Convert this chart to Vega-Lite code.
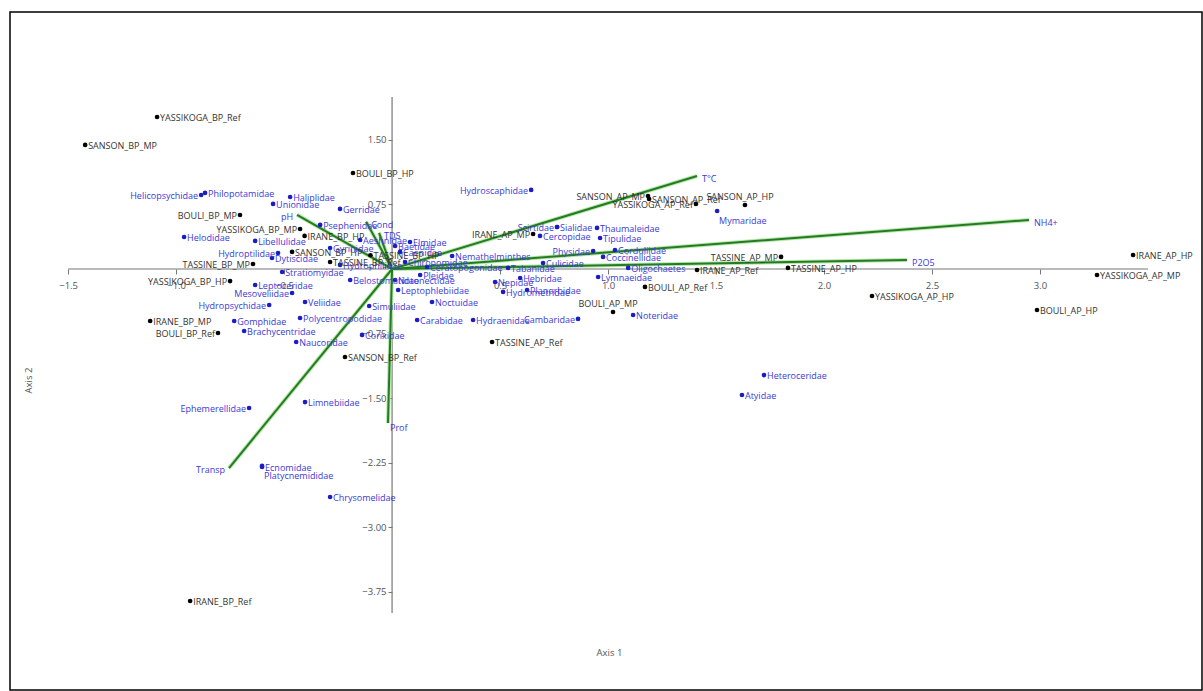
{
 "$schema": "https://vega.github.io/schema/vega-lite/v6.json",
 "autosize": "none",
 "padding": {"left": 10, "top": 12, "right": 1, "bottom": 1},
 "width": 1192,
 "height": 678,
 "background": "white",
 "config": {"view": {"stroke": "#000", "strokeWidth": 1.5}, "font": "Open Sans"},
 "datasets": {
  "axes": [
   {"x": -1.5, "y": 0, "x2": 3.5, "y2": 0},
   {"x": 0, "y": -4, "x2": 0, "y2": 2}
  ],
  "vectorsR": [
   {"name": "T°C", "x": 1.412, "y": 1.081},
   {"name": "NH4+", "x": 2.949, "y": 0.570},
   {"name": "P2O5", "x": 2.384, "y": 0.105},
   {"name": "TDS", "x": -0.06, "y": 0.42},
   {"name": "Cond", "x": -0.12, "y": 0.55}
  ],
  "vectorsL": [
   {"name": "Transp", "x": -0.755, "y": -2.314},
   {"name": "pH", "x": -0.44, "y": 0.63}
  ],
  "vectorsB": [
   {"name": "Prof", "x": -0.019, "y": -1.791}
  ],
  "sitesR": [
   {"name": "YASSIKOGA_BP_Ref", "x": -1.088, "y": 1.767},
   {"name": "SANSON_BP_MP", "x": -1.421, "y": 1.442},
   {"name": "BOULI_BP_HP", "x": -0.181, "y": 1.116},
   {"name": "SANSON_BP_HP", "x": -0.463, "y": 0.198},
   {"name": "IRANE_BP_HP", "x": -0.405, "y": 0.384},
   {"name": "TASSINE_BP_Ref", "x": -0.287, "y": 0.081},
   {"name": "TASSINE_BP_HP", "x": -0.10, "y": 0.16},
   {"name": "SANSON_BP_Ref", "x": -0.218, "y": -1.023},
   {"name": "IRANE_BP_MP", "x": -1.120, "y": -0.605},
   {"name": "IRANE_BP_Ref", "x": -0.935, "y": -3.860},
   {"name": "IRANE_AP_HP", "x": 3.431, "y": 0.163},
   {"name": "YASSIKOGA_AP_MP", "x": 3.264, "y": -0.070},
   {"name": "YASSIKOGA_AP_HP", "x": 2.222, "y": -0.314},
   {"name": "BOULI_AP_HP", "x": 2.986, "y": -0.477},
   {"name": "BOULI_AP_Ref", "x": 1.171, "y": -0.209},
   {"name": "TASSINE_AP_HP", "x": 1.833, "y": 0.012},
   {"name": "IRANE_AP_Ref", "x": 1.412, "y": -0.012},
   {"name": "TASSINE_AP_Ref", "x": 0.463, "y": -0.849},
   {"name": "SANSON_AP_Ref", "x": 1.190, "y": 0.814}
  ],
  "sitesL": [
   {"name": "BOULI_BP_MP", "x": -0.704, "y": 0.628},
   {"name": "YASSIKOGA_BP_MP", "x": -0.426, "y": 0.465},
   {"name": "TASSINE_BP_MP", "x": -0.644, "y": 0.058},
   {"name": "YASSIKOGA_BP_HP", "x": -0.750, "y": -0.140},
   {"name": "BOULI_BP_Ref", "x": -0.806, "y": -0.744},
   {"name": "IRANE_AP_MP", "x": 0.653, "y": 0.407},
   {"name": "SANSON_AP_MP", "x": 1.185, "y": 0.849},
   {"name": "TASSINE_AP_MP", "x": 1.801, "y": 0.140},
   {"name": "YASSIKOGA_AP_Ref", "x": 1.407, "y": 0.756}
  ],
  "sitesT": [
   {"name": "SANSON_AP_HP", "x": 1.634, "y": 0.744},
   {"name": "BOULI_AP_MP", "x": 1.023, "y": -0.500}
  ],
  "taxaR": [
   {"name": "Philopotamidae", "x": -0.866, "y": 0.884},
   {"name": "Haliplidae", "x": -0.472, "y": 0.837},
   {"name": "Unionidae", "x": -0.551, "y": 0.756},
   {"name": "Gerridae", "x": -0.241, "y": 0.698},
   {"name": "Helodidae", "x": -0.963, "y": 0.372},
   {"name": "Libellulidae", "x": -0.634, "y": 0.326},
   {"name": "Gomphidae", "x": -0.731, "y": -0.605},
   {"name": "Brachycentridae", "x": -0.685, "y": -0.721},
   {"name": "Naucoridae", "x": -0.444, "y": -0.849},
   {"name": "Corixidae", "x": -0.139, "y": -0.767},
   {"name": "Limnebiidae", "x": -0.403, "y": -1.547},
   {"name": "Ecnomidae", "x": -0.602, "y": -2.302},
   {"name": "Chrysomelidae", "x": -0.287, "y": -2.651},
   {"name": "Heteroceridae", "x": 1.722, "y": -1.233},
   {"name": "Atyidae", "x": 1.620, "y": -1.465},
   {"name": "Hydraenidae", "x": 0.375, "y": -0.593},
   {"name": "Carabidae", "x": 0.116, "y": -0.593},
   {"name": "Leptophlebiidae", "x": 0.028, "y": -0.244},
   {"name": "Noteridae", "x": 1.116, "y": -0.535},
   {"name": "Oligochaetes", "x": 1.093, "y": 0.012},
   {"name": "Sialidae", "x": 0.764, "y": 0.488},
   {"name": "Thaumaleidae", "x": 0.949, "y": 0.477},
   {"name": "Cercopidae", "x": 0.685, "y": 0.384},
   {"name": "Tipulidae", "x": 0.963, "y": 0.360},
   {"name": "Nemathelminthes", "x": 0.278, "y": 0.151},
   {"name": "Lymnaeidae", "x": 0.954, "y": -0.093},
   {"name": "Noctuidae", "x": 0.185, "y": -0.384},
   {"name": "Simuliidae", "x": -0.106, "y": -0.430},
   {"name": "Veliidae", "x": -0.403, "y": -0.384},
   {"name": "Leptoceridae", "x": -0.634, "y": -0.186},
   {"name": "Stratiomyidae", "x": -0.509, "y": -0.035},
   {"name": "Polycentropodidae", "x": -0.426, "y": -0.570},
   {"name": "Dytiscidae", "x": -0.556, "y": 0.128},
   {"name": "Baetidae", "x": 0.014, "y": 0.267},
   {"name": "Caenidae", "x": 0.037, "y": 0.198},
   {"name": "Chironomidae", "x": 0.060, "y": 0.081},
   {"name": "Elmidae", "x": 0.083, "y": 0.314},
   {"name": "Hydrophilidae", "x": -0.241, "y": 0.047},
   {"name": "Gyrinidae", "x": -0.287, "y": 0.244},
   {"name": "Notonectidae", "x": 0.014, "y": -0.128},
   {"name": "Pleidae", "x": 0.130, "y": -0.070},
   {"name": "Belostomatidae", "x": -0.194, "y": -0.128},
   {"name": "Nepidae", "x": 0.477, "y": -0.151},
   {"name": "Hebridae", "x": 0.593, "y": -0.105},
   {"name": "Hydrometridae", "x": 0.514, "y": -0.267},
   {"name": "Ceratopogonidae", "x": 0.162, "y": 0.023},
   {"name": "Tabanidae", "x": 0.537, "y": 0.012},
   {"name": "Culicidae", "x": 0.699, "y": 0.070},
   {"name": "Planorbidae", "x": 0.625, "y": -0.244},
   {"name": "Corduliidae", "x": 1.032, "y": 0.221},
   {"name": "Coccinellidae", "x": 0.977, "y": 0.140},
   {"name": "Aeshnidae", "x": -0.148, "y": 0.337},
   {"name": "Psephenidae", "x": -0.333, "y": 0.512}
  ],
  "taxaL": [
   {"name": "Helicopsychidae", "x": -0.884, "y": 0.860},
   {"name": "Hydroscaphidae", "x": 0.644, "y": 0.919},
   {"name": "Ephemerellidae", "x": -0.662, "y": -1.616},
   {"name": "Hydroptilidae", "x": -0.528, "y": 0.186},
   {"name": "Physidae", "x": 0.931, "y": 0.209},
   {"name": "Cambaridae", "x": 0.861, "y": -0.581},
   {"name": "Scirtidae", "x": 0.764, "y": 0.488},
   {"name": "Mesoveliidae", "x": -0.463, "y": -0.279},
   {"name": "Hydropsychidae", "x": -0.569, "y": -0.419}
  ],
  "taxaB": [
   {"name": "Platycnemididae", "x": -0.602, "y": -2.29},
   {"name": "Mymaridae", "x": 1.505, "y": 0.674}
  ]
 },
 "encoding": {
  "x": {"field": "x", "type": "quantitative",
   "scale": {"domain": [-1.769, 3.75], "nice": false, "zero": false},
   "axis": {"title": "Axis 1", "values": [-1.5, -1, -0.5, 0.5, 1, 1.5, 2, 2.5, 3], "format": ".1f",
    "offset": -421, "domain": false, "grid": false, "tickSize": 5, "tickColor": "#777",
    "labelColor": "#555", "labelFontSize": 9.5, "labelFont": "Open Sans", "labelPadding": 6,
    "titleFont": "Open Sans", "titleFontSize": 9.5, "titleFontWeight": "normal", "titleColor": "#555",
    "titleX": 599, "titleY": 378}},
  "y": {"field": "y", "type": "quantitative",
   "scale": {"domain": [-4.895, 2.988], "nice": false, "zero": false},
   "axis": {"title": "Axis 2", "values": [1.5, 0.75, -0.75, -1.5, -2.25, -3, -3.75], "format": ".2f",
    "offset": -382, "domain": false, "grid": false, "tickSize": 4, "tickColor": "#777",
    "labelColor": "#555", "labelFontSize": 9.5, "labelFont": "Open Sans", "labelPadding": 2,
    "titleFont": "Open Sans", "titleFontSize": 9.5, "titleFontWeight": "normal", "titleColor": "#555",
    "titleX": -359, "titleY": 368}}
 },
 "layer": [
  {"data": {"name": "axes"}, "mark": {"type": "rule", "color": "#777", "strokeWidth": 1.2},
   "encoding": {"x2": {"field": "x2"}, "y2": {"field": "y2"}}},
  {"data": {"name": "vectorsR"}, "mark": {"type": "rule", "color": "#b5e8a8", "strokeWidth": 4},
   "encoding": {"x2": {"datum": 0}, "y2": {"datum": 0}}},
  {"data": {"name": "vectorsL"}, "mark": {"type": "rule", "color": "#b5e8a8", "strokeWidth": 4},
   "encoding": {"x2": {"datum": 0}, "y2": {"datum": 0}}},
  {"data": {"name": "vectorsB"}, "mark": {"type": "rule", "color": "#b5e8a8", "strokeWidth": 4},
   "encoding": {"x2": {"datum": 0}, "y2": {"datum": 0}}},
  {"data": {"name": "vectorsR"}, "mark": {"type": "rule", "color": "#267a26", "strokeWidth": 2},
   "encoding": {"x2": {"datum": 0}, "y2": {"datum": 0}}},
  {"data": {"name": "vectorsL"}, "mark": {"type": "rule", "color": "#267a26", "strokeWidth": 2},
   "encoding": {"x2": {"datum": 0}, "y2": {"datum": 0}}},
  {"data": {"name": "vectorsB"}, "mark": {"type": "rule", "color": "#267a26", "strokeWidth": 2},
   "encoding": {"x2": {"datum": 0}, "y2": {"datum": 0}}},
  {"data": {"name": "vectorsR"}, "mark": {"type": "text", "align": "left", "baseline": "middle", "dx": 5, "dy": 3, "fontSize": 9, "color": "#3a3ad6"},
   "encoding": {"text": {"field": "name"}}},
  {"data": {"name": "vectorsL"}, "mark": {"type": "text", "align": "right", "baseline": "middle", "dx": -4, "dy": 2, "fontSize": 9, "color": "#3a3ad6"},
   "encoding": {"text": {"field": "name"}}},
  {"data": {"name": "vectorsB"}, "mark": {"type": "text", "align": "left", "baseline": "middle", "dx": 2, "dy": 5, "fontSize": 9, "color": "#3a3ad6"},
   "encoding": {"text": {"field": "name"}}},
  {"data": {"name": "taxaR"}, "mark": {"type": "circle", "size": 22, "opacity": 1, "color": "#1c1cc4"}},
  {"data": {"name": "taxaL"}, "mark": {"type": "circle", "size": 22, "opacity": 1, "color": "#1c1cc4"}},
  {"data": {"name": "taxaB"}, "mark": {"type": "circle", "size": 22, "opacity": 1, "color": "#1c1cc4"}},
  {"data": {"name": "taxaR"}, "mark": {"type": "text", "align": "left", "baseline": "middle", "dx": 3, "dy": 1, "fontSize": 9, "color": "#3a3ad6"},
   "encoding": {"text": {"field": "name"}}},
  {"data": {"name": "taxaL"}, "mark": {"type": "text", "align": "right", "baseline": "middle", "dx": -3, "dy": 1, "fontSize": 9, "color": "#3a3ad6"},
   "encoding": {"text": {"field": "name"}}},
  {"data": {"name": "taxaB"}, "mark": {"type": "text", "align": "left", "baseline": "middle", "dx": 2, "dy": 10, "fontSize": 9, "color": "#3a3ad6"},
   "encoding": {"text": {"field": "name"}}},
  {"data": {"name": "sitesR"}, "mark": {"type": "circle", "size": 22, "opacity": 1, "color": "#000"}},
  {"data": {"name": "sitesL"}, "mark": {"type": "circle", "size": 22, "opacity": 1, "color": "#000"}},
  {"data": {"name": "sitesT"}, "mark": {"type": "circle", "size": 22, "opacity": 1, "color": "#000"}},
  {"data": {"name": "sitesR"}, "mark": {"type": "text", "align": "left", "baseline": "middle", "dx": 3, "dy": 1, "fontSize": 9, "color": "#333"},
   "encoding": {"text": {"field": "name"}}},
  {"data": {"name": "sitesL"}, "mark": {"type": "text", "align": "right", "baseline": "middle", "dx": -3, "dy": 1, "fontSize": 9, "color": "#333"},
   "encoding": {"text": {"field": "name"}}},
  {"data": {"name": "sitesT"}, "mark": {"type": "text", "align": "center", "baseline": "middle", "dx": -5, "dy": -8, "fontSize": 9, "color": "#333"},
   "encoding": {"text": {"field": "name"}}}
 ]
}
